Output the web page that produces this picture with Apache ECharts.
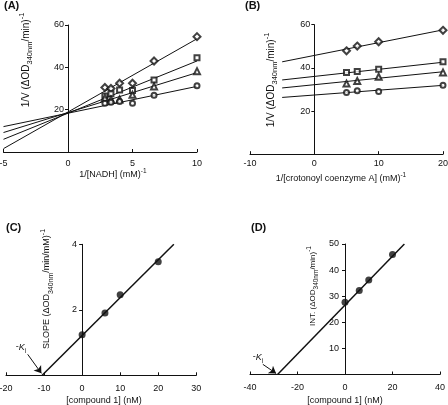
<!DOCTYPE html>
<html>
<head>
<meta charset="utf-8">
<script src="https://cdn.jsdelivr.net/npm/echarts@6/dist/echarts.min.js"></script>
<style>
html,body{margin:0;padding:0;background:#fff;}
#c{width:448px;height:405px;}
</style>
</head>
<body>
<div id="c"></div>
<script>
// ---------- Panel A: 1/V vs 1/[NADH] ----------
var aX = [2.86, 3.33, 4, 5, 6.67, 10];
var aDiamond  = [30.5, 30.0, 32.5, 32.5, 43.0, 54.5];
var aSquare   = [26.5, 27.5, 29.3, 29.0, 34.0, 44.5];
var aTriangle = [25.5, 24.8, 24.8, 27.0, 31.0, 38.2];
var aCircle   = [23.0, 23.5, 23.8, 23.0, 26.8, 31.3];
var aFitX = [-5, 10];
var aFitDiamond  = [1.6, 53.5];
var aFitSquare   = [6.0, 43.0];
var aFitTriangle = [9.2, 37.5];
var aFitCircle   = [12.0, 31.0];

// ---------- Panel B: 1/V vs 1/[crotonoyl CoA] ----------
var bX = [5, 6.67, 10, 20];
var bDiamond  = [47.9, 50.1, 52.1, 57.4];
var bSquare   = [37.9, 38.3, 39.4, 42.8];
var bTriangle = [32.7, 33.9, 35.9, 37.9];
var bCircle   = [28.6, 29.4, 29.1, 31.9];
var bFitX = [-5, 20];
var bFitDiamond  = [42.8, 57.6];
var bFitSquare   = [34.4, 42.6];
var bFitTriangle = [30.7, 38.2];
var bFitCircle   = [26.3, 31.9];

// ---------- Panel C: slope replot ----------
var cX = [0, 6, 10, 20];
var cSlope = [1.24, 1.9, 2.46, 3.47];
var cFitX = [-10.5, 24.1];
var cFitY = [0, 4];
var cArrowX = [-14.3, -10.7];
var cArrowY = [0.64, 0.06];

// ---------- Panel D: intercept replot ----------
var dX = [0, 6, 10, 20];
var dInt = [27.7, 32.2, 36.2, 46.0];
var dFitX = [-28.4, 25];
var dFitY = [0, 50];
var dArrowX = [-34.6, -29.0];
var dArrowY = [3.9, 0.4];

// tick labels
var aXTicks = [-5, 0, 5, 10], aYTicks = [20, 40, 60];
var bXTicks = [-10, 0, 10, 20], bYTicks = [20, 40, 60];
var cXTicks = [-20, -10, 0, 10, 20, 30], cYTicks = [2, 4];
var dXTicks = [-40, -20, 0, 20, 40], dYTicks = [10, 20, 30, 40, 50];

function pairs(xs, ys){ return xs.map(function(x,i){ return [x, ys[i]]; }); }

var FONT = 'Liberation Sans, Arial, sans-serif';
var INK = '#111';

// grid boxes (pixels)
var grids = [
  {left:3.5, top:25, width:193.5, height:127},
  {left:250, top:24.7, width:193, height:129.5},
  {left:6, top:244.3, width:190.3, height:131},
  {left:250, top:244, width:190, height:130.5}
];
var xRanges = [[aXTicks[0], aXTicks[aXTicks.length-1]], [bXTicks[0], bXTicks[bXTicks.length-1]],
               [cXTicks[0], cXTicks[cXTicks.length-1]], [dXTicks[0], dXTicks[dXTicks.length-1]]];
// distance from grid left to x = 0, so the y axis sits on x = 0
function zeroOffset(i){
  var r = xRanges[i], g = grids[i];
  return -g.width * (0 - r[0]) / (r[1] - r[0]);
}

function xAxis(gi, interval, margin){
  return {
    type:'value', gridIndex:gi, min:xRanges[gi][0], max:xRanges[gi][1], interval:interval,
    splitLine:{show:false},
    axisLine:{onZero:false, lineStyle:{color:INK, width:1}},
    axisTick:{show:true, inside:true, length:3, lineStyle:{color:INK}},
    axisLabel:{color:INK, fontSize:9, fontFamily:FONT, margin:margin, showMinLabel:true, showMaxLabel:true}
  };
}
function yAxis(gi, max, interval, margin){
  return {
    type:'value', gridIndex:gi, min:0, max:max, interval:interval,
    position:'left', offset:zeroOffset(gi),
    splitLine:{show:false},
    axisLine:{onZero:false, lineStyle:{color:INK, width:1}},
    axisTick:{show:true, inside:false, length:3, lineStyle:{color:INK}},
    axisLabel:{color:INK, fontSize:9, fontFamily:FONT, margin:margin,
      formatter:function(v){ return v === 0 ? '' : String(v); }}
  };
}
function fitLine(idx, xs, ys, w){
  return {type:'line', xAxisIndex:idx, yAxisIndex:idx, data:pairs(xs, ys),
    symbol:'none', silent:true, lineStyle:{color:INK, width:w||1}, z:2};
}
function pts(idx, xs, ys, sym, size){
  return {type:'scatter', xAxisIndex:idx, yAxisIndex:idx, data:pairs(xs, ys),
    symbol:sym, symbolSize:size||6, itemStyle:{color:INK, borderWidth:1}, z:3};
}
function arrow(idx, xs, ys){
  return {type:'lines', coordinateSystem:'cartesian2d', xAxisIndex:idx, yAxisIndex:idx,
    silent:true, symbol:['none','arrow'], symbolSize:7, z:4,
    lineStyle:{color:INK, width:1, opacity:1, curveness:0},
    data:[{coords:pairs(xs, ys)}]};
}

function richTitle(size, sub){
  return {
    n:{fontSize:size, fontFamily:FONT, color:INK, lineHeight:size+6, verticalAlign:'middle'},
    s:{fontSize:sub, fontFamily:FONT, color:INK, lineHeight:size+6, verticalAlign:'bottom'},
    p:{fontSize:sub, fontFamily:FONT, color:INK, lineHeight:size+6, verticalAlign:'top'},
    i:{fontSize:size, fontFamily:FONT, color:INK, fontStyle:'italic', lineHeight:size+6, verticalAlign:'middle'}
  };
}
function tText(x, y, text, size, sub, rot){
  return {type:'text', x:x, y:y, rotation:rot||0, silent:true,
    style:{text:text, rich:richTitle(size, sub), align:'center', verticalAlign:'middle',
      fontSize:size, fontFamily:FONT, fill:INK}};
}
function panelLabel(x, y, t){
  return {type:'text', x:x, y:y, silent:true,
    style:{text:t, align:'left', verticalAlign:'middle', fontSize:11, fontWeight:'bold', fontFamily:FONT, fill:INK}};
}

var option = {
  animation:false,
  backgroundColor:'#fff',
  grid:grids.map(function(g){
    return {left:g.left, top:g.top, width:g.width, height:g.height, outerBoundsMode:'none', containLabel:false};
  }),
  xAxis:[
    xAxis(0, 5, 7),
    xAxis(1, 10, 5),
    xAxis(2, 10, 9),
    xAxis(3, 20, 9)
  ],
  yAxis:[
    yAxis(0, aYTicks[aYTicks.length-1], 20, 4),
    yAxis(1, bYTicks[bYTicks.length-1], 20, 4),
    yAxis(2, cYTicks[cYTicks.length-1], 2, 5),
    yAxis(3, dYTicks[dYTicks.length-1], 10, 6)
  ],
  series:[
    fitLine(0, aFitX, aFitDiamond), fitLine(0, aFitX, aFitSquare),
    fitLine(0, aFitX, aFitTriangle), fitLine(0, aFitX, aFitCircle),
    pts(0, aX, aDiamond, 'emptyDiamond', 7), pts(0, aX, aSquare, 'emptyRect', 5),
    pts(0, aX, aTriangle, 'emptyTriangle', 6), pts(0, aX, aCircle, 'emptyCircle', 5),

    fitLine(1, bFitX, bFitDiamond), fitLine(1, bFitX, bFitSquare),
    fitLine(1, bFitX, bFitTriangle), fitLine(1, bFitX, bFitCircle),
    pts(1, bX, bDiamond, 'emptyDiamond', 7), pts(1, bX, bSquare, 'emptyRect', 5),
    pts(1, bX, bTriangle, 'emptyTriangle', 6), pts(1, bX, bCircle, 'emptyCircle', 5),

    fitLine(2, cFitX, cFitY, 1.5), pts(2, cX, cSlope, 'circle', 7), arrow(2, cArrowX, cArrowY),
    fitLine(3, dFitX, dFitY, 1.5), pts(3, dX, dInt, 'circle', 7), arrow(3, dArrowX, dArrowY)
  ],
  graphic:[
    panelLabel(4, 6, '(A)'), panelLabel(245, 6, '(B)'),
    panelLabel(6, 228, '(C)'), panelLabel(251, 228, '(D)'),
    tText(26, 60, '{n|1/V (ΔOD}{s|340nm}{n|/min)}{p|-1}', 10, 7.5, Math.PI/2),
    tText(271, 80, '{n|1/V (ΔOD}{s|340nm}{n|/min)}{p|-1}', 10, 7.5, Math.PI/2),
    tText(47, 289, '{n|SLOPE (ΔOD}{s|340nm}{n|/min/mM)}{p|-1}', 9, 7, Math.PI/2),
    tText(313, 286, '{n|INT. (ΔOD}{s|340nm}{n|/min)}{p|-1}', 8, 6.5, Math.PI/2),
    tText(113, 175, '{n|1/[NADH] (mM)}{p|-1}', 9, 6.5, 0),
    tText(341, 179, '{n|1/[crotonoyl coenzyme A] (mM)}{p|-1}', 9, 6.5, 0),
    tText(104, 401, '{n|[compound 1] (nM)}', 9, 6.5, 0),
    tText(345, 401, '{n|[compound 1] (nM)}', 9, 6.5, 0),
    tText(21, 347, '{n|-}{i|K}{s|i}', 9, 6.5, 0),
    tText(258, 357, '{n|-}{i|K}{s|i}', 9, 6.5, 0)
  ]
};

var chart = echarts.init(document.getElementById('c'), null, {renderer:'canvas', width:448, height:405});
chart.setOption(option);
</script>
</body>
</html>
